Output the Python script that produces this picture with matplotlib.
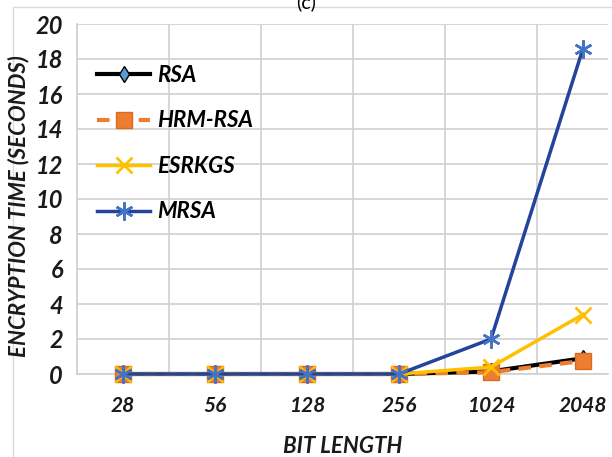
import matplotlib
matplotlib.use("Agg")
import matplotlib.pyplot as plt
from matplotlib.patches import Rectangle

# Encryption time per key size (seconds)
bit_lengths = ["28", "56", "128", "256", "1024", "2048"]
rsa = [0, 0, 0, 0, 0.15, 0.9]
hrm_rsa = [0, 0, 0, 0, 0.1, 0.75]
esrkgs = [0, 0, 0, 0, 0.4, 3.4]
mrsa = [0, 0, 0, 0, 2.0, 18.6]

plt.rcParams['font.family'] = ['Lato', 'DejaVu Sans']

fig = plt.figure(figsize=(6.12, 4.57), dpi=100)
W, H = 612, 457

# chart area border, cut by the image edge on the right and bottom
fig.patches.append(Rectangle((13 / W, -0.1), 1.2, 1.1 - 7 / H, transform=fig.transFigure,
                             facecolor='none', edgecolor='#d9d9d9', lw=1.0, zorder=-5))
fig.text(306 / W, 1.0 - 2 / H, "(c)", ha='center', va='center', fontsize=14,
         color='black')

left, right, top, bottom = 77, 608, 24, 374
ax = fig.add_axes([left / W, 1 - bottom / H, (right - left) / W, (bottom - top) / H])
ax.set_facecolor('none')

x = list(range(len(bit_lengths)))
ax.plot(x, rsa, color='black', lw=3, marker='d', ms=8, mfc='#5b9bd5', mec='black',
        label='RSA', zorder=3, clip_on=False)
ax.plot(x, hrm_rsa, color='#ed7d31', lw=3, ls=(0, (3, 2)), marker='s', ms=11,
        mfc='#ed7d31', mec='#d96b20', label='HRM-RSA', zorder=4, clip_on=False)
ax.plot(x, esrkgs, color='#ffc000', lw=2.5, marker='x', ms=12, mew=2,
        mec='#ffc000', label='ESRKGS', zorder=5, clip_on=False)
ax.plot(x, mrsa, color='#22449c', lw=2.5, marker=(6, 2, 0), ms=13, mew=1.8,
        mec='#4472c4', label='MRSA', zorder=6, clip_on=False)

ax.set_xlim(-0.5, (right - left) / 92 - 0.5)
ax.set_ylim(0, 20)
ax.set_yticks(range(0, 21, 2))
ax.set_xticks(x)
ax.set_xticklabels(bit_lengths)
ax.set_xticks([i + 0.5 for i in range(-1, 5)], minor=True)
ax.grid(which='minor', axis='x', color='#d0d0d0', lw=1.2)
ax.grid(which='major', axis='y', color='#d0d0d0', lw=1.2)
ax.set_axisbelow(True)
ax.tick_params(which='both', length=0)
ax.tick_params(axis='y', pad=10)
ax.tick_params(axis='x', pad=16)
for s in ['top', 'right']:
    ax.spines[s].set_visible(False)
for s in ['left', 'bottom']:
    ax.spines[s].set_color('#d0d0d0')
    ax.spines[s].set_linewidth(1.2)

for lab in ax.get_yticklabels():
    lab.set_fontsize(17)
    lab.set_fontstyle('italic')
    lab.set_fontweight('bold')
    lab.set_color('#1a1a1a')
for lab in ax.get_xticklabels():
    lab.set_fontsize(15)
    lab.set_fontstyle('italic')
    lab.set_fontweight('bold')
    lab.set_color('#1a1a1a')

ax.set_ylabel('ENCRYPTION TIME (SECONDS)', fontsize=16, fontstyle='italic',
              fontweight='bold', color='#1a1a1a')
ax.yaxis.set_label_coords(-0.09, 0.48)
ax.set_xlabel('BIT LENGTH', fontsize=16, fontstyle='italic',
              fontweight='bold', color='#1a1a1a', labelpad=14)

leg = ax.legend(loc='upper left', bbox_to_anchor=(0.0, 0.94), frameon=False,
                handlelength=2.4, handletextpad=0.3, labelspacing=1.1,
                prop={'size': 16, 'style': 'italic', 'weight': 'bold'})

fig.savefig('out.png', dpi=100)
